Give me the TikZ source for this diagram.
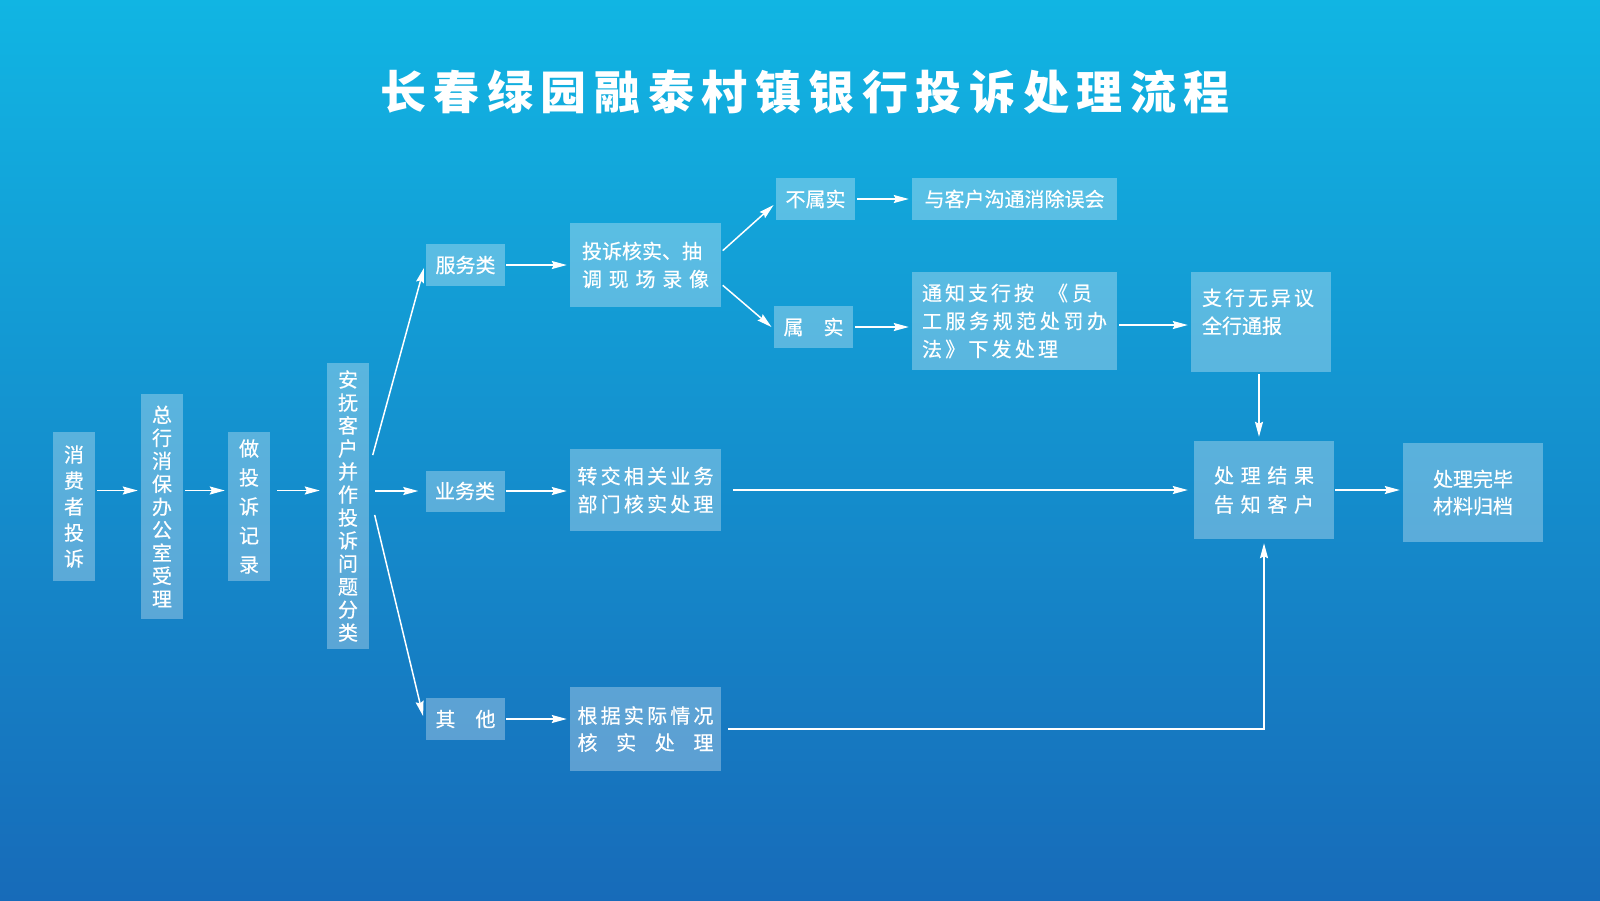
\documentclass[tikz,border=0pt]{standalone}
\usepackage{fontspec}
\setmainfont{Noto Sans CJK SC}
\newfontfamily\boxfont{Noto Sans CJK SC}[FakeBold=0.5]
\usetikzlibrary{arrows.meta}
\definecolor{bgtop}{HTML}{11B5E3}
\definecolor{bgbot}{HTML}{176BB9}
\newcommand{\sprd}[2]{\makebox[#1][s]{#2}}
\begin{document}
\begin{tikzpicture}[x=1pt,y=-1pt,
  box/.style={fill=white, fill opacity=0.3, text opacity=1, text=white, inner sep=0pt,
    font=\boxfont\fontsize{20}{28}\selectfont},
  vbox/.style={box, align=center, font=\boxfont\fontsize{20}{#1}\selectfont},
  arr/.style={draw=white, line width=1.5pt, shorten >=3pt, shorten <=2pt,
    -{Stealth[length=15pt,width=8pt,inset=2pt]}}]
\useasboundingbox (0,0) rectangle (1600,900);
\shade[top color=bgtop, bottom color=bgbot] (0,0) rectangle (1600,900);

\node[text=white, inner sep=0pt] (title) at (805,92)
  {\fontsize{46}{46}\selectfont\bfseries\sprd{850pt}{长 春 绿 园 融 泰 村 镇 银 行 投 诉 处 理 流 程}};

% vertical boxes
\node[vbox=26, minimum width=42, minimum height=149] (n1) at (74,506.5) {消\\费\\者\\投\\诉};
\node[vbox=23, minimum width=42, minimum height=225] (n2) at (162,506.5) {总\\行\\消\\保\\办\\公\\室\\受\\理};
\node[vbox=29, minimum width=42, minimum height=149] (n3) at (249,506.5) {做\\投\\诉\\记\\录};
\node[vbox=23, minimum width=42, minimum height=286] (n4) at (348,506) {安\\抚\\客\\户\\并\\作\\投\\诉\\问\\题\\分\\类};

% category boxes
\node[box, minimum width=79, minimum height=42] (fw) at (465.5,265) {服务类};
\node[box, minimum width=79, minimum height=41] (yw) at (465,491) {业务类};
\node[box, minimum width=79, minimum height=42] (qt) at (465.5,719) {其\hspace{20pt}他};

% process boxes
\node[box, minimum width=151, minimum height=84, align=left] (hs) at (645.5,265)
  {\sprd{127pt}{投诉核实、抽}\\\sprd{127pt}{调 现 场 录 像}};
\node[box, minimum width=151, minimum height=82, align=left] (zj) at (645.5,490)
  {\sprd{136pt}{转 交 相 关 业 务}\\\sprd{136pt}{部 门 核 实 处 理}};
\node[box, minimum width=151, minimum height=84, align=left, font=\boxfont\fontsize{20}{27}\selectfont] (gj) at (645.5,729)
  {\sprd{136pt}{根 据 实 际 情 况}\\\sprd{136pt}{核 实 处 理}};

\node[box, minimum width=79, minimum height=42] (bs) at (815.5,199) {不属实};
\node[box, minimum width=79, minimum height=42] (ss) at (813.5,327) {属\hspace{20pt}实};

\node[box, minimum width=205, minimum height=42] (yk) at (1014.5,199) {与客户沟通消除误会};
\node[box, minimum width=205, minimum height=98, align=left, font=\boxfont\fontsize{20}{28}\selectfont] (tz) at (1014.5,321)
  {\makebox[185pt][l]{\sprd{112pt}{通 知 支 行 按}\hspace{14pt}\sprd{44pt}{《 员}}\\
   \sprd{185pt}{工 服 务 规 范 处 罚 办}\\
   \makebox[185pt][l]{\sprd{136pt}{法 》 下 发 处 理}}};
\node[box, minimum width=140, minimum height=100, align=left, font=\boxfont\fontsize{20}{28}\selectfont] (wy) at (1261,322)
  {\makebox[118pt][l]{\sprd{106pt}{支 行 无 异 议}}\\\makebox[118pt][l]{全行通报}\\[-6pt]\mbox{}};
\node[box, minimum width=140, minimum height=98, align=center, font=\boxfont\fontsize{20}{29}\selectfont] (jg) at (1264,490)
  {\sprd{100pt}{处 理 结 果}\\\sprd{100pt}{告 知 客 户}};
\node[box, minimum width=140, minimum height=99, align=center, font=\boxfont\fontsize{20}{27}\selectfont] (wb) at (1473,492.5)
  {处理完毕\\材料归档};

% connectors
\draw[arr] ([yshift=16pt]n1.east) -- ([yshift=16pt]n1.east -| n2.west);
\draw[arr] ([yshift=16pt]n2.east) -- ([yshift=16pt]n2.east -| n3.west);
\draw[arr, shorten <=7pt, shorten >=7pt] ([yshift=16pt]n3.east) -- ([yshift=16pt]n3.east -| n4.west);
\draw[arr, shorten <=6pt, shorten >=7pt] (n4.east |- yw.west) -- (yw.west);
\draw[arr] ([xshift=3pt,yshift=49pt]n4.east) -- ([xshift=-1pt]fw.west);
\draw[arr] ([xshift=5pt,yshift=-7pt]n4.east) -- ([xshift=-2pt]qt.west);
\draw[arr, shorten <=1pt] (fw) -- (hs);
\draw[arr, shorten <=1pt] (yw.east) -- (yw.east -| zj.west);
\draw[arr, shorten <=1pt] (qt.east) -- (qt.east -| gj.west);
\draw[arr] ([yshift=13pt]hs.east) -- ([yshift=-4pt]bs.west);
\draw[arr] ([yshift=-19pt]hs.east) -- ([yshift=-2pt]ss.west);
\draw[arr] (bs) -- (yk);
\draw[arr] (ss.east) -- (ss.east -| tz.west);
\draw[arr] ([yshift=-4pt]tz.east) -- ([yshift=-4pt]tz.east -| wy.west);
\draw[arr, shorten >=4pt] ([xshift=-2pt]wy.south) -- ([xshift=-2pt]wy.south |- jg.north);
\draw[arr, shorten <=12pt, shorten >=6pt] (zj.east) -- (zj.east -| jg.west);
\draw[arr, shorten <=1pt] (jg.east) -- (jg.east -| wb.west);
\draw[arr, shorten <=7pt, shorten >=4pt] (gj.east) -| (jg.south);
\end{tikzpicture}
\end{document}
